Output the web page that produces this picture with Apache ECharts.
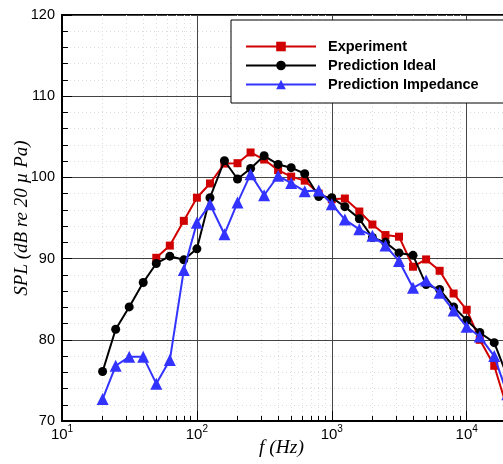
<!DOCTYPE html>
<html>
<head>
<meta charset="utf-8">
<script src="https://cdn.jsdelivr.net/npm/echarts@6/dist/echarts.min.js"></script>
<style>html,body{margin:0;padding:0;background:#fff}#c{width:503px;height:464px}</style>
</head>
<body>
<div id="c"></div>
<script>
// 1/3-octave band centre frequencies (Hz)
var freqs = [20,25,31.5,40,50,63,80,100,125,160,200,250,315,400,500,630,800,1000,1250,1600,2000,2500,3150,4000,5000,6300,8000,10000,12500,16000,20000];
var experiment = [null,null,null,null,90.1,91.6,94.65,97.5,99.25,101.7,101.75,103.07,102.2,100.9,100.1,99.6,98.0,97.3,97.4,95.8,94.2,92.9,92.7,89.0,89.9,88.5,85.7,83.7,80.0,76.8,71.5];
var ideal = [76.1,81.3,84.05,87.05,89.4,90.3,89.85,91.2,97.5,102.05,99.8,101.1,102.66,101.6,101.2,100.45,97.65,97.5,96.4,94.9,92.6,92.0,90.7,90.4,86.8,86.2,84.05,82.4,80.9,79.65,75.5];
var impedance = [72.7,76.8,77.9,77.9,74.6,77.5,88.6,94.4,96.7,93.0,96.9,100.4,97.8,100.2,99.3,98.3,98.4,96.7,94.8,93.6,92.8,91.6,89.7,86.4,87.3,85.8,83.6,81.6,80.4,78.0,73.3];
var seriesNames = ['Experiment','Prediction Ideal','Prediction Impedance'];
var xTitle = 'f (Hz)';
var yTitle = 'SPL (dB re 20 \u00b5 Pa)';

function pairs(vals){
  var out = [];
  for (var i = 0; i < freqs.length; i++) { if (vals[i] != null) out.push([freqs[i], vals[i]]); }
  return out;
}

var chart = echarts.init(document.getElementById('c'), null, {renderer:'canvas'});
var sansFont = '"Liberation Sans", Arial, sans-serif';
var serifFont = '"Liberation Serif", "DejaVu Serif", serif';

chart.setOption({
  animation: false,
  backgroundColor: '#fff',
  grid: {left: 62, top: 15, width: 539.6, height: 406, outerBoundsMode: 'none', containLabel: false,
         show: true, borderColor: '#000', borderWidth: 2, backgroundColor: 'transparent'},
  legend: {
    orient: 'vertical', left: 231, top: 20,
    padding: [19, 200, 11, 14],
    backgroundColor: '#fff', borderColor: '#000', borderWidth: 1, borderRadius: 0,
    itemWidth: 70, itemHeight: 12, itemGap: 4,
    textStyle: {fontFamily: sansFont, fontWeight: 'bold', fontSize: 14.5, color: '#000', padding: [0,0,0,7]},
    data: seriesNames
  },
  xAxis: {
    type: 'log', logBase: 10, min: 10, max: 100000,
    axisLine: {show: true, lineStyle: {color: '#000', width: 2}},
    axisTick: {show: true, inside: true, length: 10, lineStyle: {color: '#000', width: 1}},
    minorTick: {show: true, splitNumber: 9, length: 5, lineStyle: {color: '#000', width: 1}},
    splitLine: {show: true, lineStyle: {color: '#444', width: 1}},
    minorSplitLine: {show: true, lineStyle: {color: '#dcdcdc', width: 1, type: [1, 3]}},
    axisLabel: {
      margin: 3, color: '#000',
      formatter: function(v){ var e = Math.round(Math.log10(v)); return '{b|10}{s|' + e + '}'; },
      rich: {
        b: {fontFamily: sansFont, fontSize: 15, color: '#000', verticalAlign: 'bottom', lineHeight: 18},
        s: {fontFamily: sansFont, fontSize: 10, color: '#000', verticalAlign: 'top', padding: [0,0,8,0], lineHeight: 18}
      }
    }
  },
  yAxis: {
    type: 'value', min: 70, max: 120, interval: 10,
    name: yTitle, nameLocation: 'middle', nameGap: 31, nameRotate: 90, nameMoveOverlap: false,
    nameTextStyle: {fontFamily: serifFont, fontStyle: 'italic', fontSize: 19, color: '#000'},
    axisLine: {show: true, lineStyle: {color: '#000', width: 2}},
    axisTick: {show: true, inside: true, length: 10, lineStyle: {color: '#000', width: 1}},
    minorTick: {show: true, splitNumber: 5, length: 6, lineStyle: {color: '#000', width: 1}},
    splitLine: {show: true, lineStyle: {color: '#444', width: 1}},
    minorSplitLine: {show: true, lineStyle: {color: '#dcdcdc', width: 1, type: [1, 3]}},
    axisLabel: {margin: 7, fontFamily: sansFont, fontSize: 14.5, color: '#000'}
  },
  graphic: [{
    type: 'text', left: 259, top: 438,
    style: {text: xTitle, font: 'italic 19.5px ' + serifFont, fill: '#000'}
  }],
  series: [
    {name: seriesNames[0], type: 'line', data: pairs(experiment), symbol: 'rect', symbolSize: 8,
     lineStyle: {color: '#d00000', width: 2}, itemStyle: {color: '#d00000'}, z: 3},
    {name: seriesNames[1], type: 'line', data: pairs(ideal), symbol: 'circle', symbolSize: 9,
     lineStyle: {color: '#000', width: 2}, itemStyle: {color: '#000'}, z: 4},
    {name: seriesNames[2], type: 'line', data: pairs(impedance), symbol: 'triangle', symbolSize: 12,
     lineStyle: {color: '#3333ff', width: 2}, itemStyle: {color: '#3333ff'}, z: 5}
  ]
});
</script>
</body>
</html>
